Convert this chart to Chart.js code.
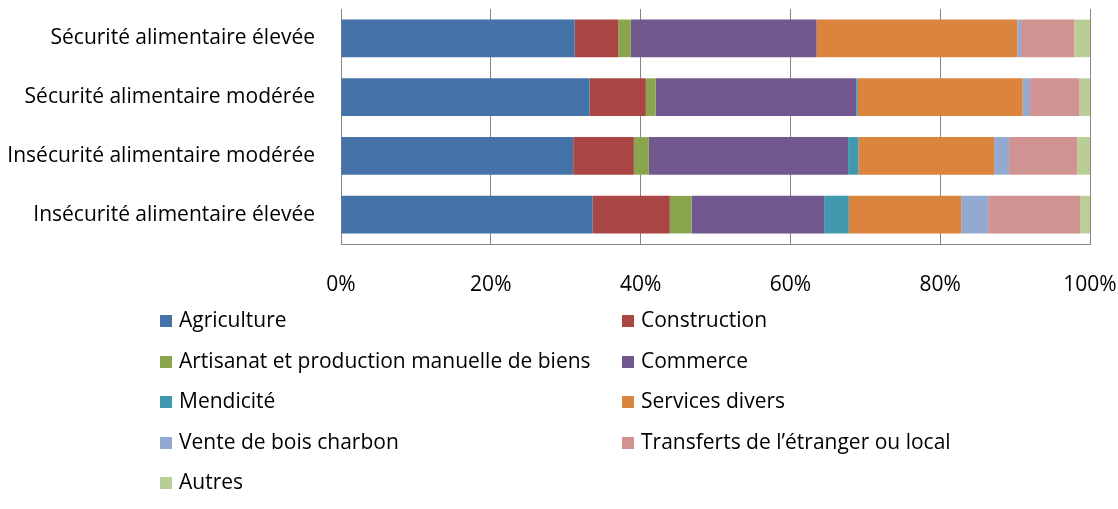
<!DOCTYPE html>
<html>
<head>
<meta charset="utf-8">
<script src="https://cdn.jsdelivr.net/npm/chart.js@4"></script>
<style>
  body { margin: 0; background: #fff; }
  #wrap { position: relative; width: 1118px; height: 509px; }
  #legend { position: absolute; left: 160px; top: 300px; width: 900px;
    font-family: "Open Sans", sans-serif; font-size: 21px; color: #000; }
  .item { position: absolute; white-space: nowrap; line-height: 26px; height: 26px; }
  .box { display: inline-block; width: 12px; height: 12px; margin-right: 7px; vertical-align: 0px; }
</style>
</head>
<body>
<div id="wrap">
  <canvas id="chart" width="1118" height="509"></canvas>
  <div id="legend"></div>
</div>
<script>
// categories (top to bottom)
const categories = ['Sécurité alimentaire élevée', 'Sécurité alimentaire modérée', 'Insécurité alimentaire modérée', 'Insécurité alimentaire élevée'];
const seriesNames = ['Agriculture', 'Construction', 'Artisanat et production manuelle de biens', 'Commerce', 'Mendicité', 'Services divers', 'Vente de bois charbon', 'Transferts de l’étranger ou local', 'Autres'];
const seriesColors = ['#4572A7', '#AA4643', '#89A54E', '#71588F', '#4198AF', '#DB843D', '#93A9CF', '#D19392', '#B9CD96'];

// percent shares per series, one value per category
const agriculture  = [31.2, 33.2, 31.0, 33.6];
const construction = [5.8, 7.5, 8.1, 10.3];
const artisanat    = [1.7, 1.3, 2.0, 2.9];
const commerce     = [24.8, 26.8, 26.6, 17.7];
const mendicite    = [0.0, 0.2, 1.4, 3.3];
const services     = [26.8, 22.0, 18.1, 15.0];
const venteBois    = [0.5, 1.0, 2.0, 3.6];
const transferts   = [7.1, 6.6, 9.1, 12.3];
const autres       = [2.1, 1.4, 1.7, 1.3];
const xTicks = [0, 20, 40, 60, 80, 100];

const seriesValues = [agriculture, construction, artisanat, commerce, mendicite, services, venteBois, transferts, autres];

const FONT = { family: '"Open Sans", sans-serif', size: 21 };

const ctx = document.getElementById('chart').getContext('2d');
new Chart(ctx, {
  type: 'bar',
  data: {
    labels: categories,
    datasets: seriesNames.map((name, i) => ({
      label: name,
      data: seriesValues[i],
      backgroundColor: seriesColors[i],
      borderWidth: 0,
      categoryPercentage: 1,
      barPercentage: 0.64
    }))
  },
  options: {
    indexAxis: 'y',
    responsive: false,
    animation: false,
    layout: { padding: { top: 9, right: 28, bottom: 215, left: 0 } },
    plugins: {
      legend: { display: false },
      tooltip: { enabled: false }
    },
    scales: {
      x: {
        stacked: true,
        min: 0,
        max: 100,
        afterFit: s => { s.height = 50; s.paddingLeft = 0; s.paddingRight = 0; },
        afterBuildTicks: s => { s.ticks = xTicks.map(v => ({ value: v })); },
        ticks: {
          color: '#000',
          font: FONT,
          padding: 28,
          maxRotation: 0,
          callback: v => v + '%'
        },
        grid: { color: '#868686', lineWidth: 1, drawTicks: false },
        border: { display: true, color: '#868686', width: 1 }
      },
      y: {
        stacked: true,
        afterFit: s => { s.width = 341; s.paddingTop = 0; s.paddingBottom = 0; },
        ticks: { color: '#000', font: FONT, padding: 26 },
        grid: { display: false, drawTicks: false },
        border: { display: true, color: '#868686', width: 1 }
      }
    }
  }
});

// two-column legend built from the series arrays
const legend = document.getElementById('legend');
const rowTops = [0, 40.5, 81, 121.5, 162];
seriesNames.forEach((name, i) => {
  const el = document.createElement('div');
  el.className = 'item';
  el.style.left = (i % 2 === 0 ? 0 : 462) + 'px';
  el.style.top = rowTops[Math.floor(i / 2)] + 6 + 'px';
  el.innerHTML = '<span class="box" style="background:' + seriesColors[i] + '"></span>' + name;
  legend.appendChild(el);
});
</script>
</body>
</html>
